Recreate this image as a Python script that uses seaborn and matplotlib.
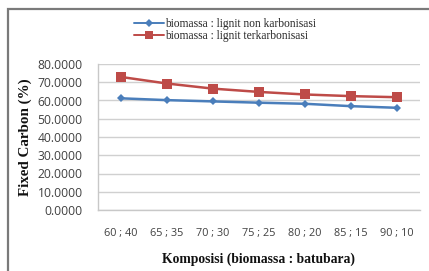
import matplotlib
matplotlib.use("Agg")
import matplotlib.pyplot as plt
import seaborn as sns
import pandas as pd
from matplotlib.patches import Rectangle

categories = ["60 ; 40", "65 ; 35", "70 ; 30", "75 ; 25", "80 ; 20", "85 ; 15", "90 ; 10"]
non_karbonisasi = [61.2, 60.2, 59.5, 58.8, 58.2, 56.9, 56.0]
terkarbonisasi = [72.9, 69.3, 66.5, 64.7, 63.3, 62.4, 61.8]
series_names = ["biomassa : lignit non karbonisasi", "biomassa : lignit terkarbonisasi"]
y_ticks = [0, 10, 20, 30, 40, 50, 60, 70, 80]

df = pd.DataFrame({
    "Komposisi": categories * 2,
    "Fixed Carbon": non_karbonisasi + terkarbonisasi,
    "Seri": [series_names[0]] * len(categories) + [series_names[1]] * len(categories),
})

sns.set_theme(style="white")
plt.rcParams["font.family"] = ["DejaVu Sans"]

fig = plt.figure(figsize=(4.29, 2.71), dpi=100)
ax = fig.add_axes([98/429, 1 - 210/271, (420-98)/429, (210-64)/271])

palette = {series_names[0]: "#4a7ebb", series_names[1]: "#be4b48"}
markers = {series_names[0]: "D", series_names[1]: "s"}
sizes_map = {series_names[0]: 4.5, series_names[1]: 7}

sns.lineplot(data=df, x="Komposisi", y="Fixed Carbon", hue="Seri", style="Seri",
             palette=palette, markers=markers, dashes=False, sort=False,
             linewidth=1.8, markersize=6, markeredgewidth=0, ax=ax, legend=True)

for line, name in zip(ax.lines, series_names):
    line.set_markersize(sizes_map[name])

ax.set_xlim(-0.5, len(categories) - 0.5)
ax.set_ylim(0, 80)
ax.set_yticks(y_ticks)
ax.set_yticklabels([f"{v:.4f}" for v in y_ticks])
ax.yaxis.grid(True, color="#d0d0d0", linewidth=1)
ax.set_axisbelow(True)
for s in ["top", "right"]:
    ax.spines[s].set_visible(False)
for s in ["left", "bottom"]:
    ax.spines[s].set_color("#c8c8c8")
    ax.spines[s].set_linewidth(1)

ax.tick_params(axis="y", length=0, pad=11, labelsize=8.7, labelcolor="#404040")
ax.tick_params(axis="x", length=0, pad=13, labelsize=7.8, labelcolor="#404040")
for lab in ax.get_xticklabels() + ax.get_yticklabels():
    lab.set_family("Open Sans")

ax.set_xlabel("Komposisi (biomassa : batubara)", family="Liberation Serif",
              fontweight="bold", fontsize=9.8, labelpad=10, color="#111111")
ax.set_ylabel("Fixed Carbon (%)", family="Liberation Serif",
              fontweight="bold", fontsize=10.8, labelpad=4, color="#111111")

handles, labels = ax.get_legend_handles_labels()
for h, name in zip(handles, labels):
    h.set_markersize(sizes_map.get(name, 5) * 0.8)
    h.set_linewidth(1.4)
ax.legend(handles, labels, loc="upper left", bbox_to_anchor=(134/429, 1 - 18/271),
          bbox_transform=fig.transFigure, frameon=False,
          prop={"family": "Liberation Serif", "size": 8.3},
          handlelength=2.6, handletextpad=0.1, labelspacing=0.0,
          borderpad=0, borderaxespad=0)

fig.patches.append(Rectangle((8/429, -0.1), 1.2, 1 - 9/271 + 0.1,
                             transform=fig.transFigure, fill=False,
                             edgecolor="#7a7a7a", linewidth=1.6))

fig.savefig("out.png", dpi=100)
